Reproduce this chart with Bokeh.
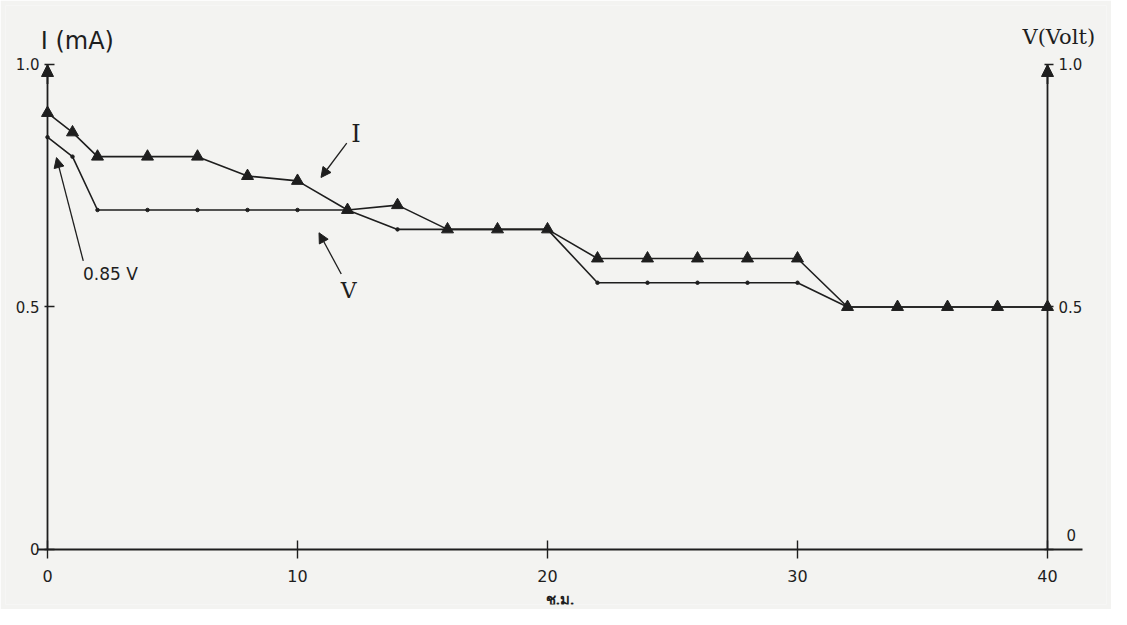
from bokeh.plotting import figure
from bokeh.models import Range1d, LinearAxis, FixedTicker, Label, Arrow, NormalHead
from bokeh.embed import file_html
from bokeh.resources import INLINE

# ---- data ----
hours = [0, 1, 2, 4, 6, 8, 10, 12, 14, 16, 18, 20, 22, 24, 26, 28, 30, 32, 34, 36, 38, 40]
current_mA = [0.90, 0.86, 0.81, 0.81, 0.81, 0.77, 0.76, 0.70, 0.71, 0.66, 0.66, 0.66,
              0.60, 0.60, 0.60, 0.60, 0.60, 0.50, 0.50, 0.50, 0.50, 0.50]
voltage_V = [0.85, 0.81, 0.70, 0.70, 0.70, 0.70, 0.70, 0.70, 0.66, 0.66, 0.66, 0.66,
             0.55, 0.55, 0.55, 0.55, 0.55, 0.50, 0.50, 0.50, 0.50, 0.50]
x_ticks = [0, 10, 20, 30, 40]
y_ticks = [0, 0.5, 1.0]
y_tick_labels = ["0", "0.5", "1.0"]
x_label = "ช.ม."
left_title = "I (mA)"
right_title = "V(Volt)"

INK = "#1e1e1e"
PAPER = "#f3f3f1"
FONT = "DejaVu Sans"

p = figure(width=1111, height=609, output_backend="svg", toolbar_location=None,
           x_range=Range1d(-1.68, 42.36), y_range=Range1d(-0.1134, 1.1216),
           background_fill_color=PAPER, border_fill_color=PAPER,
           min_border_left=5, min_border_right=5, min_border_top=5, min_border_bottom=5)
p.outline_line_color = None
p.grid.visible = False
p.extra_y_ranges = {"v": Range1d(-0.1134, 1.1216)}
p.xaxis.visible = False
p.yaxis.visible = False


def style_axis(ax, size="15px"):
    ax.axis_line_color = INK
    ax.axis_line_width = 1.8
    ax.major_tick_line_color = INK
    ax.major_tick_line_width = 1.4
    ax.minor_tick_line_color = None
    ax.major_label_text_font = FONT
    ax.major_label_text_font_size = size
    ax.major_label_text_color = INK


def overrides(skip_zero=False):
    ov = {}
    for v, s in zip(y_ticks, y_tick_labels):
        txt = "" if (skip_zero and v == 0) else s
        ov[float(v)] = txt
        if float(v).is_integer():
            ov[int(v)] = txt
    return ov


xax = LinearAxis(ticker=FixedTicker(ticks=x_ticks), fixed_location=0,
                 bounds=(x_ticks[0] - 0.4, x_ticks[-1] + 1.4))
style_axis(xax, "16px")
xax.major_tick_in = 9
xax.major_tick_out = 9
xax.major_label_standoff = 12
xax.axis_label = x_label
xax.axis_label_text_font = "Noto Sans"
xax.axis_label_text_font_size = "15px"
xax.axis_label_text_font_style = "bold"
xax.axis_label_text_color = INK
xax.axis_label_standoff = 3
p.add_layout(xax, "below")

lax = LinearAxis(ticker=FixedTicker(ticks=y_ticks), fixed_location=x_ticks[0],
                 bounds=(y_ticks[0], y_ticks[-1]))
style_axis(lax)
lax.major_tick_in = 7
lax.major_tick_out = 3
lax.major_label_overrides = overrides()
p.add_layout(lax, "left")

rax = LinearAxis(ticker=FixedTicker(ticks=y_ticks), fixed_location=x_ticks[-1], y_range_name="v",
                 bounds=(y_ticks[0], y_ticks[-1]))
style_axis(rax)
rax.major_tick_in = 3
rax.major_tick_out = 6
rax.major_label_overrides = overrides(skip_zero=True)
p.add_layout(rax, "right")
# the right axis "0" sits above the time axis in the reference
p.add_layout(Label(x=x_ticks[-1] + 0.95, y=y_ticks[0] + 0.03, y_range_name="v", text=y_tick_labels[0],
                   text_font=FONT, text_font_size="15px", text_color=INK,
                   text_align="center", text_baseline="middle"))

# axis arrow heads at the top
for xa, rng in ((x_ticks[0], "default"), (x_ticks[-1], "v")):
    p.add_layout(Arrow(x_start=xa, y_start=y_ticks[-1] - 0.04, x_end=xa, y_end=y_ticks[-1],
                       line_color=INK, line_width=1.8, y_range_name=rng,
                       end=NormalHead(size=12, fill_color=INK, line_color=INK)))

# series
p.line(hours, voltage_V, line_color=INK, line_width=1.6, y_range_name="v")
p.scatter(hours, voltage_V, size=3.5, color=INK, y_range_name="v")
p.line(hours, current_mA, line_color=INK, line_width=1.6)
p.scatter(hours, current_mA, marker="triangle", size=12, color=INK)

# titles
p.add_layout(Label(x=-0.27, y=1.049, text=left_title, text_font=FONT, text_font_size="24px",
                   text_color=INK, text_baseline="middle"))
p.add_layout(Label(x=39.0, y=1.057, text=right_title, text_font="DejaVu Serif", text_font_size="21px",
                   text_color=INK, text_baseline="middle"))

# annotations
arrow_head = dict(size=10, fill_color=INK, line_color=INK)
p.add_layout(Label(x=12.34, y=0.856, text="I", text_font="DejaVu Serif", text_font_size="24px",
                   text_color=INK, text_baseline="middle", text_align="center"))
p.add_layout(Arrow(x_start=11.97, y_start=0.838, x_end=10.94, y_end=0.767, line_color=INK, line_width=1.3,
                   end=NormalHead(**arrow_head)))
p.add_layout(Label(x=12.05, y=0.533, text="V", text_font="DejaVu Serif", text_font_size="22px",
                   text_color=INK, text_baseline="middle", text_align="center"))
p.add_layout(Arrow(x_start=11.75, y_start=0.568, x_end=10.86, y_end=0.653, line_color=INK, line_width=1.3,
                   end=NormalHead(**arrow_head)))
p.add_layout(Label(x=1.42, y=0.568, text="0.85 V", text_font=FONT, text_font_size="17px",
                   text_color=INK, text_baseline="middle"))
p.add_layout(Arrow(x_start=1.43, y_start=0.595, x_end=0.36, y_end=0.808, line_color=INK, line_width=1.3,
                   end=NormalHead(**arrow_head)))

open("out.html", "w").write(file_html(p, INLINE))
